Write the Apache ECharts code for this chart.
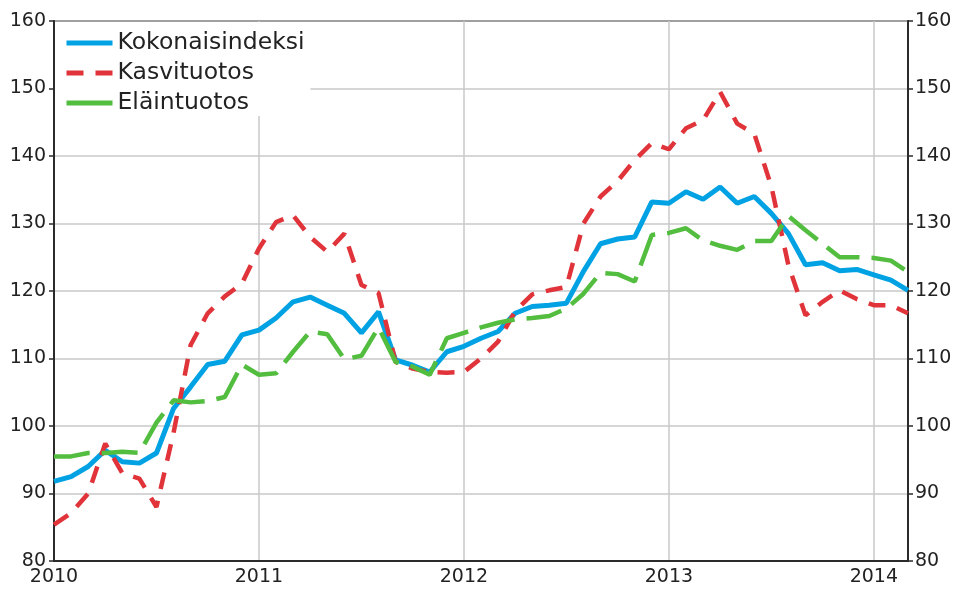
<!DOCTYPE html>
<html>
<head>
<meta charset="utf-8">
<script src="https://cdn.jsdelivr.net/npm/echarts@6/dist/echarts.min.js"></script>
<style>
html,body{margin:0;padding:0;background:#fff;}
#chart{width:956px;height:589px;}
</style>
</head>
<body>
<div id="chart"></div>
<script>
// Months Jan 2010 .. Mar 2014
const months = [];
for (let y = 2010; y <= 2014; y++) {
  for (let m = 1; m <= 12; m++) {
    if (y === 2014 && m > 3) break;
    months.push(y + '-' + (m < 10 ? '0' + m : m));
  }
}
const seriesNames = ['Kokonaisindeksi', 'Kasvituotos', 'Eläintuotos'];
const yTicks = [80, 90, 100, 110, 120, 130, 140, 150, 160];

const kokonaisindeksi = [
  91.8, 92.5, 94.0, 96.4, 94.7, 94.5, 96.0, 102.6, 105.8, 109.1, 109.6, 113.5,
  114.2, 116.0, 118.4, 119.1, 117.9, 116.7, 113.8, 116.9, 109.8, 109.0, 108.0, 111.0,
  111.8, 113.0, 114.0, 116.7, 117.7, 117.9, 118.2, 122.9, 127.0, 127.7, 128.0, 133.2,
  133.0, 134.7, 133.6, 135.4, 133.0, 134.0, 131.5, 128.5, 123.9, 124.2, 123.0, 123.2,
  122.4, 121.6, 120.1
];
const kasvituotos = [
  85.4, 87.1, 90.0, 97.4, 93.0, 92.2, 88.0, 99.0, 112.0, 116.7, 119.2, 121.1,
  126.3, 130.2, 131.2, 128.0, 125.8, 128.5, 120.9, 119.7, 109.5, 108.5, 108.0, 107.9,
  108.0, 110.0, 112.5, 117.0, 119.5, 120.1, 120.6, 130.0, 134.0, 136.3, 139.4, 141.9,
  141.0, 144.1, 145.3, 149.5, 144.8, 143.3, 135.5, 123.8, 116.4, 118.4, 120.1, 118.8,
  117.9, 117.9, 116.7
];
const elaintuotos = [
  95.5, 95.5, 96.0, 96.0, 96.2, 96.0, 100.5, 103.8, 103.5, 103.7, 104.3, 109.1,
  107.6, 107.8, 111.0, 114.0, 113.6, 109.9, 110.4, 114.6, 109.5, 108.8, 107.6, 113.0,
  113.8, 114.6, 115.3, 115.8, 116.0, 116.3, 117.4, 119.6, 122.7, 122.5, 121.4, 128.3,
  128.6, 129.3, 127.5, 126.7, 126.1, 127.4, 127.4, 131.1, 129.0, 127.0, 125.0, 125.0,
  124.9, 124.5, 122.8
];

const FONT = 'DejaVu Sans';
const chart = echarts.init(document.getElementById('chart'), null, {renderer: 'canvas'});

const yAxisBase = (pos) => ({
  type: 'value',
  position: pos,
  min: yTicks[0],
  max: yTicks[yTicks.length - 1],
  interval: yTicks[1] - yTicks[0],
  axisLine: {show: true, lineStyle: {color: '#2b2b2b', width: 2}},
  axisTick: {show: true, inside: false, length: 5, lineStyle: {color: '#2b2b2b', width: 1.5}},
  axisLabel: {color: '#222', fontSize: 19, fontFamily: FONT, margin: pos === 'left' ? 8 : 7},
  splitLine: {show: pos === 'left', lineStyle: {color: '#c8c8c8', width: 1.5}}
});

const yearTick = (idx) => idx % 12 === 0;

chart.setOption({
  animation: false,
  backgroundColor: '#fff',
  grid: {left: 54, right: 48, top: 21, bottom: 28, show: true, borderColor: '#2b2b2b', borderWidth: 2, backgroundColor: 'transparent'},
  legend: {
    orient: 'vertical',
    left: 55,
    top: 22,
    padding: [9, 6, 1, 9],
    itemGap: 6,
    itemWidth: 46,
    itemHeight: 14,
    backgroundColor: '#fff',
    itemStyle: {color: 'transparent', borderColor: 'transparent', borderWidth: 0, opacity: 0},
    lineStyle: {width: 5},
    textStyle: {fontFamily: FONT, fontSize: 23.5, color: '#222', lineHeight: 24},
    data: [
      {name: seriesNames[0]},
      {name: seriesNames[1]},
      {name: seriesNames[2], lineStyle: {type: 'solid', width: 5}}
    ]
  },
  xAxis: {
    type: 'category',
    data: months,
    boundaryGap: false,
    axisLine: {show: true, lineStyle: {color: '#2b2b2b', width: 2}},
    axisTick: {show: false},
    axisLabel: {
      interval: (i) => yearTick(i),
      formatter: (v) => v.slice(0, 4),
      color: '#222', fontSize: 19, fontFamily: FONT, margin: 7
    },
    splitLine: {show: true, interval: (i) => yearTick(i), lineStyle: {color: '#c8c8c8', width: 1.5}}
  },
  yAxis: [yAxisBase('left'), yAxisBase('right')],
  series: [
    {
      name: seriesNames[0], type: 'line', data: kokonaisindeksi, symbol: 'none',
      lineStyle: {color: '#00a2e3', width: 5}, itemStyle: {color: '#00a2e3'}
    },
    {
      name: seriesNames[1], type: 'line', data: kasvituotos, symbol: 'none',
      lineStyle: {color: '#e0343a', width: 4.5, type: [17, 12]}, itemStyle: {color: '#e0343a'}
    },
    {
      name: seriesNames[2], type: 'line', data: elaintuotos, symbol: 'none',
      lineStyle: {color: '#52bd3e', width: 4.5, type: [36, 12]}, itemStyle: {color: '#52bd3e'}
    }
  ]
});
</script>
</body>
</html>
